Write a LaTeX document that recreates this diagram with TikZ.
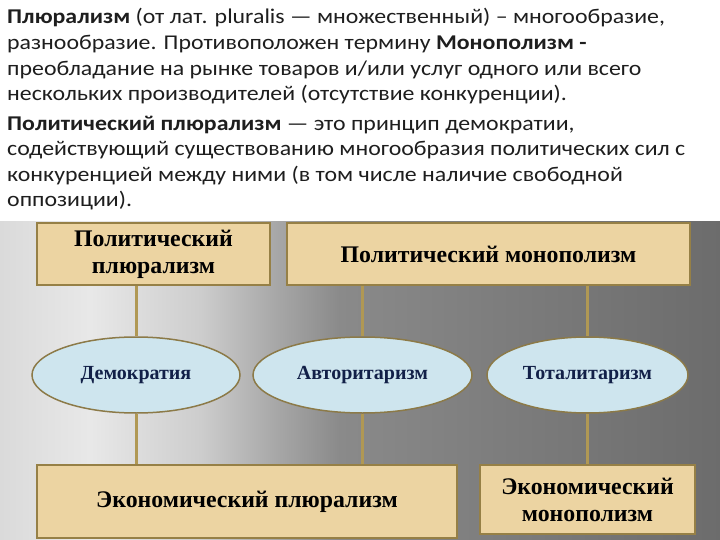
\documentclass[tikz,border=0pt]{standalone}
\usepackage{fontspec}
\setmainfont{Carlito}[FakeStretch=1.135]
\newfontfamily\boxfont{Liberation Serif}
\usetikzlibrary{shapes.geometric}
\definecolor{boxfill}{RGB}{236,212,162}
\definecolor{boxline}{RGB}{150,128,70}
\definecolor{conn}{RGB}{176,152,84}
\definecolor{ellfill}{RGB}{206,229,238}
\definecolor{ellline}{RGB}{140,122,72}
\definecolor{elltext}{RGB}{18,32,72}
\definecolor{txt}{RGB}{30,30,30}
\pgfdeclarehorizontalshading{bgshade}{100bp}{rgb(0bp)=(.855,.855,.855); rgb(25bp)=(.855,.855,.855); rgb(31.25bp)=(.91,.91,.91); rgb(38.9bp)=(.804,.804,.804); rgb(43.75bp)=(.667,.667,.667); rgb(48.6bp)=(.541,.541,.541); rgb(59.7bp)=(.49,.49,.49); rgb(75bp)=(.424,.424,.424); rgb(100bp)=(.424,.424,.424)}
\tikzset{
  boxnode/.style={draw=boxline, line width=2pt, fill=boxfill, inner sep=0pt, align=center,
    font=\boxfont\bfseries\fontsize{23.8}{27}\selectfont, text=black},
  ellnode/.style={ellipse, draw=ellline, line width=1.5pt, fill=ellfill, inner sep=0pt,
    font=\boxfont\bfseries\fontsize{20}{23}\selectfont, text=elltext},
  conline/.style={draw=conn, line width=3pt},
  topline/.style={anchor=base west, inner sep=0pt, text=txt, font=\fontsize{21}{25}\selectfont}
}
\begin{document}
\begin{tikzpicture}[x=1pt,y=-1pt]
\useasboundingbox (0,0) rectangle (720,540);
\fill[white] (0,0) rectangle (720,540);
\shade[shading=bgshade] (0,222) rectangle (720,540);
% top text
\node[topline] (t1) at (7,24) {\textbf{Плюрализм} (от лат. pluralis — множественный) – многообразие,};
\node[topline] (t2) at (7,50) {разнообразие. Противоположен термину \textbf{Монополизм -}};
\node[topline] (t3) at (7,76) {преобладание на рынке товаров и/или услуг одного или всего};
\node[topline] (t4) at (7,101) {нескольких производителей (отсутствие конкуренции).};
\node[topline] (t5) at (7,131) {\textbf{Политический плюрализм} — это принцип демократии,};
\node[topline] (t6) at (7,156) {содействующий существованию многообразия политических сил с};
\node[topline] (t7) at (7,182) {конкуренцией между ними (в том числе наличие свободной};
\node[topline] (t8) at (7,207) {оппозиции).};
% boxes
\node[boxnode, minimum width=233pt, minimum height=62pt] (pp) at (153.5,254) {Политический\\плюрализм};
\node[boxnode, minimum width=403pt, minimum height=62pt] (pm) at (488.5,254) {Политический монополизм};
\node[ellnode, minimum width=208pt, minimum height=76pt] (dem) at (136,375) {Демократия};
\node[ellnode, minimum width=219pt, minimum height=76pt] (avt) at (362.5,375) {Авторитаризм};
\node[ellnode, minimum width=201pt, minimum height=76pt] (tot) at (587.5,375) {Тоталитаризм};
\node[boxnode, minimum width=420pt, minimum height=73pt] (ep) at (247,501.5) {Экономический плюрализм};
\node[boxnode, minimum width=215pt, minimum height=69pt] (em) at (587.5,499.5) {Экономический\\монополизм};
% connectors
\draw[conline] (pp.south -| dem.north) -- (dem.north);
\draw[conline] (pm.south -| avt.north) -- (avt.north);
\draw[conline] (pm.south -| tot.north) -- (tot.north);
\draw[conline] (dem.south) -- (dem.south |- ep.north);
\draw[conline] (avt.south) -- (avt.south |- ep.north);
\draw[conline] (tot.south) -- (em.north);
\end{tikzpicture}
\end{document}
